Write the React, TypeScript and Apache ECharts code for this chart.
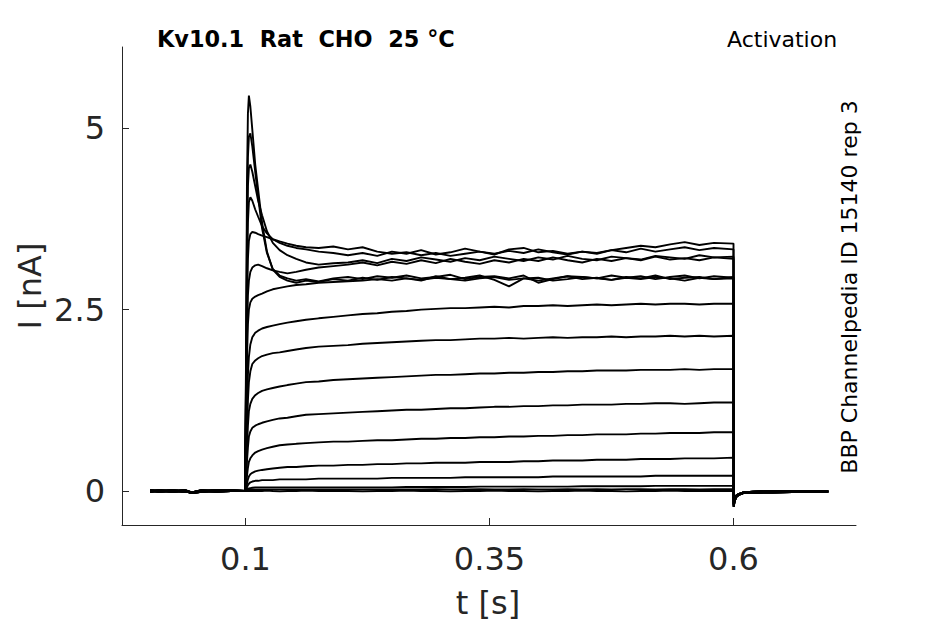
import React, { useEffect, useRef } from "react";
import * as echarts from "echarts";

// time points (s) of the step segment
const stepT = [
  0.1, 0.1008, 0.1015, 0.1025, 0.1035, 0.105, 0.107, 0.11,
  0.113, 0.117, 0.122, 0.128, 0.135, 0.143, 0.152, 0.162, 0.175, 0.19,
  0.205, 0.22, 0.235, 0.25, 0.265, 0.28, 0.295, 0.31, 0.325, 0.34, 0.355, 0.37,
  0.385, 0.4, 0.415, 0.43, 0.445, 0.46, 0.475, 0.49, 0.505, 0.52, 0.535, 0.55,
  0.565, 0.58, 0.6,
];

// current traces (nA) during the step
const traceA = [
  0, 2.2, 4.2, 5.2, 5.45, 5.3, 4.98, 4.5,
  4.15, 3.7, 3.3, 3.05, 2.95, 2.9, 2.87, 2.9, 2.88, 2.92,
  2.9, 2.94, 2.91, 2.95, 2.93, 2.9, 2.96, 2.92, 2.94, 2.97, 2.91, 2.82, 2.93, 2.9,
  2.93, 2.96, 2.92, 2.94, 2.91, 2.95, 2.93, 2.97, 2.92, 2.94, 2.95, 2.92, 2.93,
];
const traceB = [
  0, 1.9, 3.6, 4.6, 4.88, 4.93, 4.75, 4.4,
  4.05, 3.62, 3.28, 3.06, 2.97, 2.93, 2.9, 2.92, 2.89, 2.93,
  2.95, 2.92, 2.96, 2.94, 2.97, 2.93, 2.95, 2.98, 2.92, 2.95, 2.96, 2.93, 2.97, 2.87,
  2.92, 2.96, 2.95, 2.93, 2.97, 2.94, 2.96, 2.92, 2.95, 2.97, 2.93, 2.96, 2.94,
];
const traceC = [
  0, 1.7, 3.3, 4.2, 4.45, 4.5, 4.4, 4.2,
  4.0, 3.8, 3.58, 3.42, 3.32, 3.25, 3.2, 3.15, 3.12, 3.14,
  3.15, 3.18, 3.14, 3.2, 3.17, 3.22, 3.19, 3.16, 3.21, 3.18, 3.23, 3.2, 3.17, 3.22,
  3.19, 3.24, 3.2, 3.18, 3.23, 3.21, 3.19, 3.24, 3.22, 3.2, 3.25, 3.22, 3.23,
];
const traceD = [
  0, 1.5, 2.9, 3.7, 3.98, 4.05, 4.0, 3.88,
  3.78, 3.65, 3.55, 3.47, 3.42, 3.38, 3.35, 3.33, 3.3, 3.28,
  3.25, 3.28, 3.24, 3.3, 3.27, 3.32, 3.26, 3.29, 3.34, 3.3, 3.27, 3.31, 3.28, 3.33,
  3.29, 3.26, 3.3, 3.27, 3.32, 3.29, 3.34, 3.3, 3.33, 3.36, 3.32, 3.35, 3.33,
];
const traceE = [
  0, 1.3, 2.5, 3.2, 3.45, 3.54, 3.57, 3.56,
  3.54, 3.52, 3.5, 3.47, 3.44, 3.41, 3.38, 3.36, 3.35, 3.37,
  3.33, 3.36, 3.3, 3.27, 3.29, 3.25, 3.28, 3.24, 3.27, 3.3, 3.26, 3.33, 3.35, 3.29,
  3.31, 3.27, 3.3, 3.28, 3.32, 3.35, 3.38, 3.36, 3.4, 3.43, 3.39, 3.42, 3.41,
];
const traceF = [
  0, 1.1, 2.1, 2.7, 2.9, 3.02, 3.08, 3.11,
  3.12, 3.1, 3.07, 3.04, 3.02, 3.0, 3.02, 3.05, 3.08, 3.1,
  3.12, 3.15, 3.11, 3.16, 3.13, 3.18, 3.14, 3.2, 3.16, 3.13, 3.18, 3.15, 3.2, 3.17,
  3.22, 3.18, 3.15, 3.2, 3.17, 3.21, 3.18, 3.23, 3.19, 3.21, 3.18, 3.22, 3.2,
];
const traceG = [
  0, 1.0, 1.8, 2.3, 2.5, 2.6, 2.65, 2.68,
  2.7, 2.72, 2.75, 2.78, 2.8, 2.82, 2.84, 2.85, 2.87, 2.88,
  2.89, 2.9, 2.92, 2.9, 2.93, 2.91, 2.94, 2.92, 2.9, 2.93, 2.95, 2.91, 2.93, 2.94,
  2.9, 2.92, 2.95, 2.93, 2.91, 2.94, 2.92, 2.95, 2.93, 2.9, 2.94, 2.92, 2.95,
];
const traceH = [
  0, 0.6, 1.1, 1.6, 1.85, 2.02, 2.12, 2.18,
  2.21, 2.24, 2.26, 2.28, 2.3, 2.32, 2.34, 2.36, 2.38, 2.4,
  2.42, 2.44, 2.45, 2.47, 2.48, 2.5, 2.51, 2.52, 2.52, 2.53, 2.54, 2.53, 2.55, 2.55,
  2.56, 2.55, 2.56, 2.57, 2.56, 2.57, 2.58, 2.57, 2.58, 2.58, 2.57, 2.58, 2.58,
];
const traceI = [
  0, 0.45, 0.85, 1.25, 1.5, 1.65, 1.75, 1.8,
  1.83, 1.86, 1.88, 1.9, 1.91, 1.93, 1.95, 1.97, 1.99, 2.0,
  2.01, 2.03, 2.04, 2.05, 2.06, 2.07, 2.08, 2.08, 2.09, 2.1, 2.1, 2.11, 2.1, 2.11,
  2.12, 2.11, 2.12, 2.12, 2.13, 2.12, 2.13, 2.13, 2.14, 2.13, 2.14, 2.13, 2.14,
];
const traceJ = [
  0, 0.3, 0.6, 0.9, 1.1, 1.2, 1.27, 1.32,
  1.35, 1.38, 1.4, 1.42, 1.44, 1.46, 1.48, 1.5, 1.51, 1.53,
  1.54, 1.55, 1.56, 1.57, 1.58, 1.59, 1.6, 1.6, 1.61, 1.62, 1.62, 1.63, 1.63, 1.64,
  1.64, 1.65, 1.65, 1.66, 1.66, 1.66, 1.67, 1.67, 1.67, 1.68, 1.67, 1.68, 1.68,
];
const traceK = [
  0, 0.2, 0.4, 0.6, 0.75, 0.82, 0.87, 0.9,
  0.92, 0.94, 0.96, 0.98, 1.0, 1.01, 1.03, 1.05, 1.06, 1.07,
  1.08, 1.09, 1.1, 1.11, 1.12, 1.12, 1.13, 1.14, 1.14, 1.15, 1.16, 1.16, 1.17, 1.17,
  1.18, 1.18, 1.19, 1.19, 1.19, 1.2, 1.2, 1.21, 1.21, 1.2, 1.21, 1.22, 1.22,
];
const traceL = [
  0, 0.1, 0.2, 0.32, 0.4, 0.45, 0.49, 0.53,
  0.55, 0.57, 0.59, 0.61, 0.63, 0.64, 0.65, 0.66, 0.67, 0.68,
  0.68, 0.69, 0.7, 0.7, 0.71, 0.72, 0.72, 0.73, 0.73, 0.74, 0.74, 0.75, 0.75, 0.76,
  0.76, 0.77, 0.77, 0.78, 0.78, 0.78, 0.79, 0.79, 0.8, 0.8, 0.8, 0.81, 0.81,
];
const traceM = [
  0, 0.05, 0.1, 0.16, 0.2, 0.23, 0.25, 0.27,
  0.28, 0.29, 0.3, 0.31, 0.32, 0.33, 0.33, 0.34, 0.35, 0.35,
  0.36, 0.36, 0.37, 0.37, 0.38, 0.38, 0.39, 0.39, 0.39, 0.4, 0.4, 0.4, 0.41, 0.41,
  0.42, 0.42, 0.42, 0.43, 0.43, 0.43, 0.44, 0.44, 0.44, 0.45, 0.45, 0.45, 0.46,
];
const traceN = [
  0, 0.02, 0.05, 0.08, 0.1, 0.12, 0.13, 0.14,
  0.14, 0.15, 0.15, 0.15, 0.16, 0.16, 0.16, 0.16, 0.17, 0.17,
  0.17, 0.17, 0.17, 0.18, 0.18, 0.18, 0.18, 0.18, 0.19, 0.19, 0.19, 0.19, 0.19, 0.19,
  0.2, 0.2, 0.2, 0.2, 0.2, 0.2, 0.2, 0.21, 0.21, 0.21, 0.21, 0.21, 0.21,
];
const traceO = [
  0, 0.01, 0.02, 0.03, 0.035, 0.04, 0.045, 0.05,
  0.05, 0.05, 0.05, 0.05, 0.05, 0.05, 0.05, 0.05, 0.05, 0.05,
  0.05, 0.05, 0.05, 0.05, 0.055, 0.055, 0.055, 0.055, 0.055, 0.06, 0.06, 0.06, 0.06, 0.06,
  0.06, 0.06, 0.065, 0.065, 0.065, 0.065, 0.065, 0.07, 0.07, 0.07, 0.07, 0.07, 0.07,
];
const traceP = [
  0, 0.005, 0.01, 0.015, 0.02, 0.02, 0.02, 0.02,
  0.02, 0.02, 0.02, 0.02, 0.02, 0.02, 0.02, 0.02, 0.02, 0.02,
  0.02, 0.02, 0.02, 0.02, 0.02, 0.02, 0.025, 0.02, 0.02, 0.025, 0.02, 0.02, 0.025, 0.02,
  0.02, 0.025, 0.02, 0.025, 0.02, 0.025, 0.025, 0.02, 0.025, 0.025, 0.02, 0.025, 0.025,
];
const traceQ = [
  0, 0, 0, 0, 0, 0, 0, 0,
  0, 0, 0.005, 0, -0.005, 0, 0, 0.005, 0, 0,
  0, -0.005, 0, 0, 0.005, 0, 0, -0.005, 0, 0, 0.005, 0, 0, -0.005,
  0, 0, 0.005, 0, 0, -0.005, 0, 0, 0.005, 0, 0, 0, 0,
];

const traces = [
  traceA, traceB, traceC, traceD, traceE, traceF, traceG, traceH, traceI,
  traceJ, traceK, traceL, traceM, traceN, traceO, traceP, traceQ,
];

// holding period before the step
const preT = [0.0022, 0.012, 0.025, 0.038, 0.045, 0.055, 0.07, 0.085, 0.0995];
const pre0 = [0.01, 0.0, 0.01, -0.01, -0.02, 0.0, 0.01, 0.0, 0.0];
const pre1 = [-0.01, 0.01, -0.01, 0.0, -0.03, -0.01, 0.0, 0.01, 0.0];
const pre2 = [0.0, -0.01, 0.0, 0.01, -0.02, 0.01, -0.01, 0.0, 0.0];
const preVariants = [pre0, pre1, pre2];

// tail after the step
const postT = [0.6003, 0.601, 0.603, 0.606, 0.61, 0.62, 0.64, 0.67, 0.697];
const post0 = [-0.22, -0.14, -0.08, -0.05, -0.03, -0.02, -0.01, -0.01, -0.01];
const post1 = [-0.2, -0.12, -0.07, -0.04, -0.02, -0.01, 0.0, -0.01, 0.0];
const post2 = [-0.18, -0.11, -0.06, -0.04, -0.03, -0.02, -0.02, -0.01, -0.01];
const postVariants = [post0, post1, post2];

const xTicks = [0.1, 0.35, 0.6];
const yTicks = [0, 2.5, 5];

const FONT = "DejaVu Sans";
const AXIS_COLOR = "#262626";

export default function App() {
  const ref = useRef<HTMLDivElement>(null);

  useEffect(() => {
    if (!ref.current) return;
    const chart = echarts.init(ref.current, undefined, { renderer: "svg" });

    const series = traces.map((vals, i) => {
      const pre = preVariants[i % 3];
      const post = postVariants[i % 3];
      const data: number[][] = [
        ...preT.map((t, k) => [t, pre[k]]),
        ...stepT.map((t, k) => [t, vals[k]]),
        ...postT.map((t, k) => [t, post[k]]),
      ];
      return {
        type: "line",
        data,
        showSymbol: false,
        symbol: "none",
        silent: true,
        lineStyle: { color: "#000000", width: 1.9 },
      };
    });

    chart.setOption({
      animation: false,
      backgroundColor: "#ffffff",
      grid: { left: 122, right: 89, top: 47, bottom: 99, containLabel: false },
      xAxis: {
        type: "value",
        min: -0.0265,
        max: 0.7255,
        splitLine: { show: false },
        axisLine: { show: true, onZero: false, lineStyle: { color: AXIS_COLOR, width: 1 } },
        axisTick: {
          show: true,
          inside: true,
          length: 7,
          customValues: xTicks,
          lineStyle: { color: AXIS_COLOR, width: 1 },
        },
        axisLabel: {
          show: true,
          customValues: xTicks,
          formatter: (v: number) => String(v),
          color: AXIS_COLOR,
          fontFamily: FONT,
          fontSize: 32,
          margin: 18,
        },
      },
      yAxis: {
        type: "value",
        min: -0.469,
        max: 6.12,
        splitLine: { show: false },
        axisLine: { show: true, onZero: false, lineStyle: { color: AXIS_COLOR, width: 1 } },
        axisTick: {
          show: true,
          inside: true,
          length: 7,
          customValues: yTicks,
          lineStyle: { color: AXIS_COLOR, width: 1 },
        },
        axisLabel: {
          show: true,
          customValues: yTicks,
          formatter: (v: number) => String(v),
          color: AXIS_COLOR,
          fontFamily: FONT,
          fontSize: 32,
          margin: 17,
        },
      },
      series,
      graphic: [
        {
          type: "text",
          x: 157,
          y: 39,
          style: {
            text: "Kv10.1  Rat  CHO  25 °C",
            fontFamily: FONT,
            fontSize: 22.4,
            fontWeight: "bold",
            fill: "#000000",
            align: "left",
            verticalAlign: "middle",
          },
        },
        {
          type: "text",
          x: 727,
          y: 39,
          style: {
            text: "Activation",
            fontFamily: FONT,
            fontSize: 22,
            fill: "#000000",
            align: "left",
            verticalAlign: "middle",
          },
        },
        {
          type: "text",
          x: 849,
          y: 287,
          rotation: Math.PI / 2,
          style: {
            text: "BBP Channelpedia ID 15140 rep 3",
            fontFamily: FONT,
            fontSize: 22,
            fill: "#000000",
            align: "center",
            verticalAlign: "middle",
          },
        },
        {
          type: "text",
          x: 488,
          y: 603,
          style: {
            text: "t [s]",
            fontFamily: FONT,
            fontSize: 32,
            fill: AXIS_COLOR,
            align: "center",
            verticalAlign: "middle",
          },
        },
        {
          type: "text",
          x: 30,
          y: 286,
          rotation: Math.PI / 2,
          style: {
            text: "I [nA]",
            fontFamily: FONT,
            fontSize: 32,
            fill: AXIS_COLOR,
            align: "center",
            verticalAlign: "middle",
          },
        },
      ],
    });

    return () => {
      chart.dispose();
    };
  }, []);

  return (
    <div
      ref={ref}
      style={{ position: "fixed", left: 0, top: 0, width: 945, height: 624, background: "#fff" }}
    />
  );
}
